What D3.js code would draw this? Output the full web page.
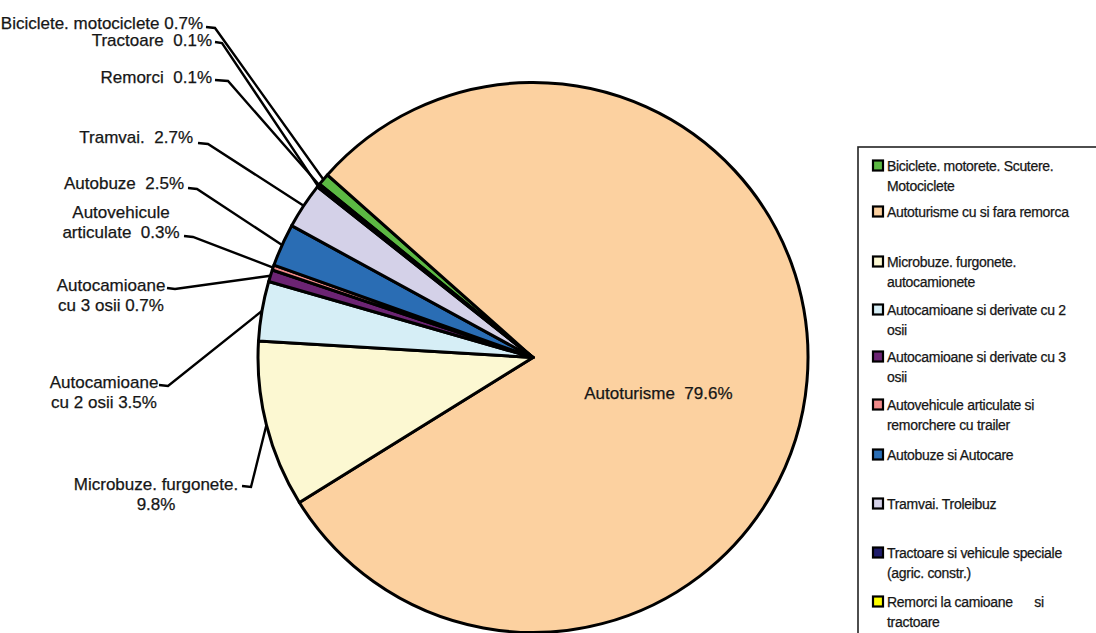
<!DOCTYPE html>
<html>
<head>
<meta charset="utf-8">
<script src="https://cdn.jsdelivr.net/npm/d3@7"></script>
<style>
  html, body { margin: 0; padding: 0; background: #fff; }
  svg { display: block; }
  text { font-family: "Liberation Sans", Arial, sans-serif; fill: #161616; white-space: pre; stroke: #161616; stroke-width: 0.25; }
</style>
</head>
<body>
<svg id="chart" width="1096" height="633"></svg>
<script>
// ---- data ----
const categories = [
  "Biciclete. motorete. Scutere.\nMotociclete",
  "Autoturisme cu si fara remorca",
  "Microbuze. furgonete.\nautocamionete",
  "Autocamioane si derivate cu 2\nosii",
  "Autocamioane si derivate cu 3\nosii",
  "Autovehicule articulate si\nremorchere cu trailer",
  "Autobuze si Autocare",
  "Tramvai. Troleibuz",
  "Tractoare si vehicule speciale\n(agric. constr.)",
  "Remorci la camioane      si\ntractoare"
];
const values = [0.7, 79.6, 9.8, 3.5, 0.7, 0.3, 2.5, 2.7, 0.1, 0.1];
const sliceLabels = [
  "Biciclete. motociclete 0.7%",
  "Autoturisme  79.6%",
  "Microbuze. furgonete.\n9.8%",
  "Autocamioane\ncu 2 osii 3.5%",
  "Autocamioane\ncu 3 osii 0.7%",
  "Autovehicule\narticulate  0.3%",
  "Autobuze  2.5%",
  "Tramvai.  2.7%",
  "Tractoare  0.1%",
  "Remorci  0.1%"
];
const colors = ["#5cb843", "#fcd1a0", "#fcf8d2", "#d6eef6", "#6c2473", "#f08a8a", "#2a6db4", "#d4d1e8", "#1f1c6b", "#ffff00"];

// ---- layout (label anchors, not data) ----
// [textX, textY(first line center), anchor, elbowStartX, elbowEndX, elbowY]
const labelLayout = [
  [203, 23, "end", 206, 215, 28],
  null,
  [156, 484, "middle", 242, 251, 487],
  [104, 382, "middle", 159, 168, 386],
  [111, 285, "middle", 167, 175, 289],
  [121, 212, "middle", 184, 193, 237],
  [184, 183, "end", 188, 197, 189],
  [193, 137, "end", 198, 208, 144],
  [212, 40, "end", 215, 222, 43],
  [212, 77, "end", 215, 228, 81]
];

const svg = d3.select("#chart");
const cx = 533, cy = 357.5, R = 275;
const total = d3.sum(values);
const startDeg = 311.6 - values[0] / total * 360;

const pie = d3.pie().sort(null).value(d => d)
  .startAngle(startDeg * Math.PI / 180)
  .endAngle((startDeg + 360) * Math.PI / 180);
const arcs = pie(values);
const arc = d3.arc().innerRadius(0).outerRadius(R);

const g = svg.append("g").attr("transform", `translate(${cx},${cy})`);
g.selectAll("path.slice").data(arcs).enter().append("path")
  .attr("class", "slice")
  .attr("d", arc)
  .attr("fill", (d, i) => colors[i])
  .attr("stroke", "#000")
  .attr("stroke-width", 3)
  .attr("stroke-linejoin", "round");

// leader lines and labels
const lineH = 20;
arcs.forEach((a, i) => {
  const lines = sliceLabels[i].split("\n");
  const lay = labelLayout[i];
  if (!lay) {
    const c = d3.arc().innerRadius(0).outerRadius(R * 0.93).centroid(a);
    svg.append("text")
      .attr("x", cx + c[0] - 2).attr("y", cy + c[1] + 25)
      .attr("text-anchor", "middle").attr("dominant-baseline", "central")
      .attr("font-size", 17).text(lines[0]);
    return;
  }
  const mid = (a.startAngle + a.endAngle) / 2;
  const px = cx + R * Math.sin(mid), py = cy - R * Math.cos(mid);
  const [tx, ty, anchor, ex0, ex1, ey] = lay;
  svg.append("path")
    .attr("d", d3.line()([[ex0, ey - 1], [ex1, ey], [px, py]]))
    .attr("fill", "none").attr("stroke", "#000").attr("stroke-width", 2.4);
  lines.forEach((ln, k) => {
    svg.append("text")
      .attr("x", tx).attr("y", ty + k * lineH)
      .attr("text-anchor", anchor).attr("dominant-baseline", "central")
      .attr("font-size", 17).text(ln);
  });
});

// ---- legend ----
const legendRowY = [166, 212, 262, 310, 357, 405, 455, 504, 553, 602];
svg.append("rect")
  .attr("x", 858).attr("y", 147).attr("width", 260).attr("height", 520)
  .attr("fill", "#fff").attr("stroke", "#222").attr("stroke-width", 1.6);
const lg = svg.append("g");
categories.forEach((c, i) => {
  const y = legendRowY[i];
  lg.append("rect")
    .attr("x", 873).attr("y", y - 5.5).attr("width", 10).attr("height", 10)
    .attr("fill", colors[i]).attr("stroke", "#000").attr("stroke-width", 2.2);
  c.split("\n").forEach((ln, k) => {
    lg.append("text")
      .attr("x", 887).attr("y", y + k * 19.5)
      .attr("dominant-baseline", "central")
      .attr("font-size", 14).attr("letter-spacing", -0.3)
      .text(ln);
  });
});
</script>
</body>
</html>
